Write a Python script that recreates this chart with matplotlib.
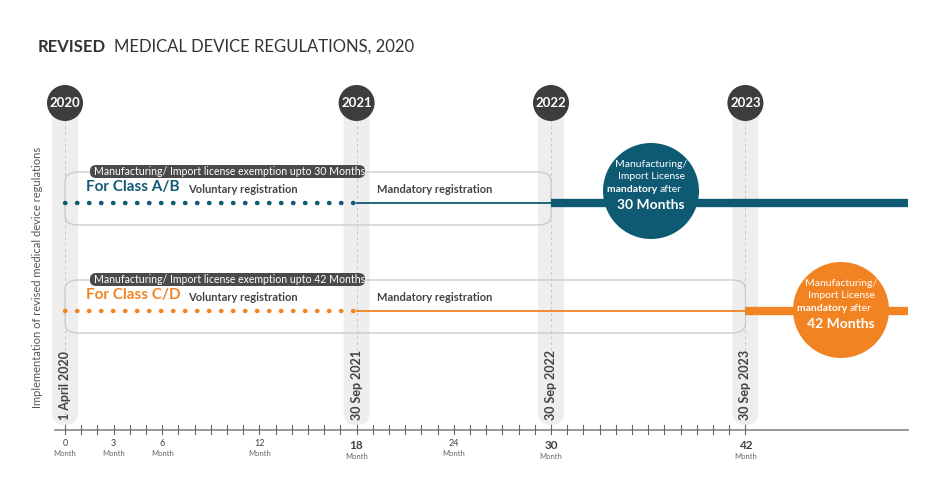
import matplotlib
matplotlib.use('Agg')
import matplotlib.pyplot as plt
from matplotlib.patches import FancyBboxPatch, Ellipse

plt.rcParams['font.family'] = 'Lato'

# timeline data (months from 1 April 2020)
milestone_months = [0, 18, 30, 42]
milestone_years = ['2020', '2021', '2022', '2023']
milestone_dates = ['1 April 2020', '30 Sep 2021', '30 Sep 2022', '30 Sep 2023']
tick_label_months = [0, 3, 6, 12, 18, 24, 30, 42]
big_tick_months = [18, 30, 42]

classes = ['For Class A/B', 'For Class C/D']
class_colors = ['#0f5a73', '#f28322']
exemption_months = [30, 42]
voluntary_end = 18
row_y = [203, 311]   # vertical position in layout units (px)

PX_PER_MONTH = 16.2
X0 = 65

fig = plt.figure(figsize=(9.44, 4.94), dpi=100)
ax = fig.add_axes([0, 0, 1, 1])
ax.set_xlim(-X0 / PX_PER_MONTH, (944 - X0) / PX_PER_MONTH)
ax.set_ylim(494, 0)
ax.axis('off')

def mw(px):
    return px / PX_PER_MONTH

def px(xpix):
    return (xpix - X0) / PX_PER_MONTH

# title
ax.text(px(38), 47, 'REVISED', fontsize=12, fontweight='bold', color='#333333', va='center')
ax.text(px(114), 47, 'MEDICAL DEVICE REGULATIONS, 2020', fontsize=12, color='#333333', va='center')

# pillars
for m, yr, d in zip(milestone_months, milestone_years, milestone_dates):
    ax.add_patch(FancyBboxPatch((m - mw(13), 100), mw(26), 325,
                                boxstyle='round,pad=0,rounding_size=0.8', mutation_aspect=16,
                                fc='#eeeeee', ec='none', zorder=1))
    ax.plot([m, m], [120, 428], ls=(0, (3, 3)), color='#c8c8c8', lw=0.7, zorder=1.5)
    ax.add_patch(Ellipse((m, 103), mw(36), 36, fc='#3d3d3d', ec='none', zorder=3))
    ax.text(m, 103, yr, color='white', fontsize=9.5, fontweight='bold', ha='center', va='center', zorder=4)
    ax.text(m, 420, d, rotation=90, fontsize=9, fontweight='bold', color='#444444',
            ha='center', va='bottom', zorder=4)

# axis
ax.plot([-mw(10), px(908)], [430, 430], color='#888888', lw=1.2, zorder=2)
for m in range(0, 43):
    ax.plot([m, m], [425, 434], color='#666666', lw=0.8, zorder=2)
for m in tick_label_months:
    big = m in big_tick_months
    ax.text(m, 445 if big else 443, str(m), ha='center', va='center', color='#444444',
            fontsize=8.5 if big else 6.5, fontweight='bold' if big else 'normal')
    ax.text(m, 456 if big else 453, 'Month', ha='center', va='center', color='#666666', fontsize=5.5)

ax.text(-mw(27), 277, 'Implementation of revised medical device regulations', rotation=90,
        ha='center', va='center', fontsize=8, color='#555555')

circle_text = [['Manufacturing/', 'Import License', 'mandatory after', '30 Months'],
               ['Manufacturing/', 'Import License', 'mandatory after', '42 Months']]
circle_x = [651, 841]
circle_y = [191, 310]

for i, (name, col, ex, y) in enumerate(zip(classes, class_colors, exemption_months, row_y)):
    top = y - 31
    ax.add_patch(FancyBboxPatch((0, top), ex, 53, boxstyle='round,pad=0,rounding_size=0.8',
                                mutation_aspect=12, fc='none', ec='#cccccc', lw=1, zorder=2))
    ax.add_patch(FancyBboxPatch((mw(25), top - 7), mw(275), 13, boxstyle='round,pad=0,rounding_size=0.4',
                                mutation_aspect=14, fc='#4a4a4a', ec='none', zorder=3))
    ax.text(mw(29), top - 0.5, 'Manufacturing/ Import license exemption upto %d Months' % ex,
            color='white', fontsize=7.6, va='center', zorder=4)
    ax.text(mw(21), y - 16, name, color=col, fontsize=11, fontweight='bold', va='center', zorder=4)
    ax.text(mw(123), y - 14, 'Voluntary registration', color='#444444', fontsize=8,
            fontweight='bold', va='center', zorder=4)
    ax.text(mw(312), y - 14, 'Mandatory registration', color='#444444', fontsize=8,
            fontweight='bold', va='center', zorder=4)
    ax.plot([0, voluntary_end], [y, y], color=col, lw=3.2, ls=(0, (0.1, 2.6)),
            dash_capstyle='round', zorder=4)
    ax.plot([voluntary_end, ex], [y, y], color=col, lw=1.3, zorder=4)
    ax.plot([ex, px(908)], [y, y], color=col, lw=6, solid_capstyle='butt', zorder=4)
    cx = px(circle_x[i])
    cy = circle_y[i]
    ax.add_patch(Ellipse((cx, cy), mw(96), 96, fc=col, ec='none', zorder=5))
    lines = circle_text[i]
    ax.text(cx, cy - 27, lines[0], color='white', fontsize=7.5, ha='center', va='center', zorder=6)
    ax.text(cx, cy - 15, lines[1], color='white', fontsize=7.5, ha='center', va='center', zorder=6)
    ax.text(cx + mw(9), cy - 2, 'mandatory ', color='white', fontsize=7.5, fontweight='bold',
            ha='right', va='center', zorder=6)
    ax.text(cx + mw(9), cy - 2, 'after', color='white', fontsize=7.5, ha='left', va='center', zorder=6)
    ax.text(cx, cy + 14, lines[3], color='white', fontsize=10, fontweight='bold',
            ha='center', va='center', zorder=6)

fig.savefig('out.png', dpi=100, facecolor='white')
